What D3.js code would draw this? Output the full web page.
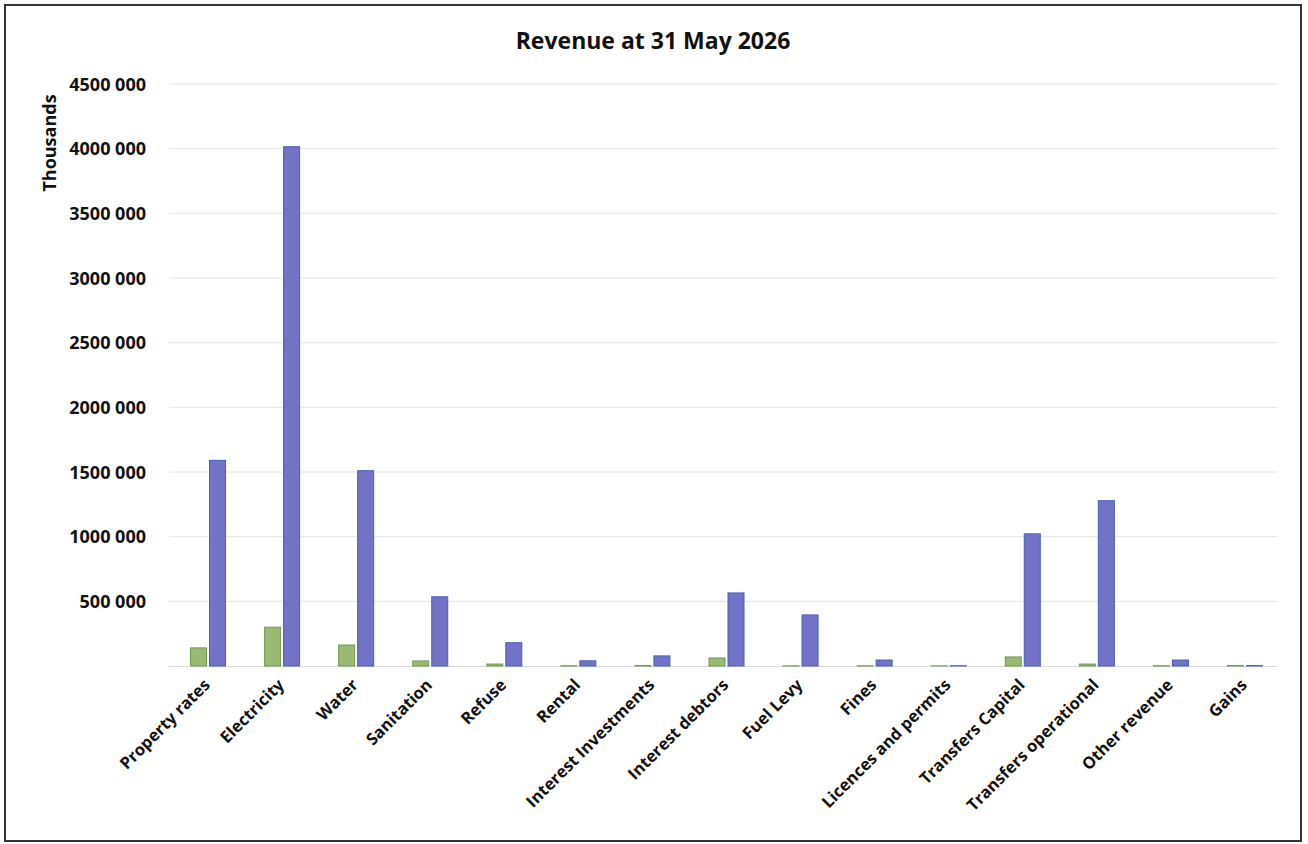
<!DOCTYPE html>
<html>
<head>
<meta charset="utf-8">
<script src="https://cdn.jsdelivr.net/npm/d3@7"></script>
<style>
  body { margin: 0; background: #fff; }
  svg text { font-family: 'Open Sans', 'Noto Sans', sans-serif; fill: #111; }
</style>
</head>
<body>
<div class="chart"></div>
<script>
'use strict'
var categories = ['Property rates', 'Electricity', 'Water', 'Sanitation', 'Refuse', 'Rental',
  'Interest Investments', 'Interest debtors', 'Fuel Levy', 'Fines', 'Licences and permits',
  'Transfers Capital', 'Transfers operational', 'Other revenue', 'Gains']
// green series (smaller) and blue series (larger), in thousands
var greenValues = [140000, 300000, 162000, 39000, 15000, 2000, 4000, 62000, 1000, 1500, 1000, 70000, 15000, 2000, 4000]
var blueValues = [1590000, 4015000, 1510000, 535000, 180000, 40000, 78000, 565000, 395000, 46000, 2000, 1022000, 1278000, 46000, 3000]
var yTicks = [500000, 1000000, 1500000, 2000000, 2500000, 3000000, 3500000, 4000000, 4500000]

var width = 1308
var height = 844
var plotLeft = 171
var plotRight = 1282
var plotTop = 84
var plotBottom = 666

var svg = d3.select('.chart').append('svg')
  .attr('width', width)
  .attr('height', height)

// outer frame
svg.append('rect')
  .attr('x', 5).attr('y', 5)
  .attr('width', 1296).attr('height', 836)
  .attr('fill', 'none')
  .attr('stroke', '#333')
  .attr('stroke-width', 2)

var x = d3.scaleBand().domain(categories).range([plotLeft, plotRight])
var y = d3.scaleLinear().domain([0, 4500000]).range([plotBottom, plotTop])

var fmt = function (d) {
  return d3.format(',')(d).replace(/,(\d{3})$/, ' $1').replace(/,/g, '')
}

// gridlines
svg.append('g').selectAll('line')
  .data(yTicks)
  .enter().append('line')
  .attr('x1', plotLeft - 2).attr('x2', plotRight - 5)
  .attr('y1', function (d) { return y(d) }).attr('y2', function (d) { return y(d) })
  .attr('stroke', '#e4e4e4')
  .attr('stroke-width', 1)

svg.append('line')
  .attr('x1', plotLeft - 2).attr('x2', plotRight - 5)
  .attr('y1', plotBottom + 0.5).attr('y2', plotBottom + 0.5)
  .attr('stroke', '#d8d8d8')

// tick labels
svg.append('g').selectAll('text')
  .data(yTicks)
  .enter().append('text')
  .attr('x', 146)
  .attr('y', function (d) { return y(d) + 6.5 })
  .attr('text-anchor', 'end')
  .style('font-size', '18px')
  .style('font-weight', 'bold')
  .text(fmt)

// y axis title
svg.append('text')
  .attr('transform', 'translate(56,143)rotate(-90)')
  .attr('text-anchor', 'middle')
  .style('font-size', '18px')
  .style('font-weight', 'bold')
  .text('Thousands')

// title
svg.append('text')
  .attr('x', 653).attr('y', 49)
  .attr('text-anchor', 'middle')
  .style('font-size', '23px')
  .style('font-weight', 'bold')
  .text('Revenue at 31 May 2026')

var barW = 16
var cx = function (d) { return x(d) + x.bandwidth() / 2 }

svg.append('g').selectAll('rect')
  .data(categories)
  .enter().append('rect')
  .attr('x', function (d) { return cx(d) - barW - 1.5 })
  .attr('y', function (d, i) { return y(greenValues[i]) })
  .attr('width', barW)
  .attr('height', function (d, i) { return plotBottom - y(greenValues[i]) })
  .attr('fill', '#9aba74')
  .attr('stroke', '#6f9a4e')
  .attr('stroke-width', 1)

svg.append('g').selectAll('rect')
  .data(categories)
  .enter().append('rect')
  .attr('x', function (d) { return cx(d) + 1.5 })
  .attr('y', function (d, i) { return y(blueValues[i]) })
  .attr('width', barW)
  .attr('height', function (d, i) { return plotBottom - y(blueValues[i]) })
  .attr('fill', '#7272c6')
  .attr('stroke', '#4560c0')
  .attr('stroke-width', 1)

// category labels
svg.append('g').selectAll('text')
  .data(categories)
  .enter().append('text')
  .attr('transform', function (d) { return 'translate(' + (cx(d) + 3) + ',' + 686 + ')rotate(-45)' })
  .attr('text-anchor', 'end')
  .style('font-size', '16.5px')
  .style('font-weight', 'bold')
  .text(function (d) { return d })
</script>
</body>
</html>
